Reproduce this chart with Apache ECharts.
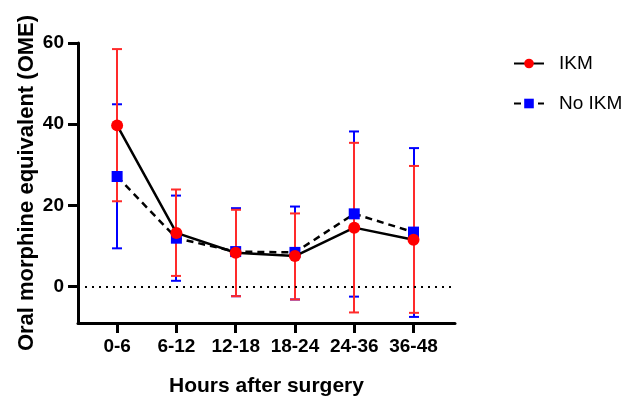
<!DOCTYPE html>
<html>
<head>
<meta charset="utf-8">
<script src="https://cdn.jsdelivr.net/npm/echarts@6/dist/echarts.min.js"></script>
<style>
  html, body { margin: 0; padding: 0; background: #fff; }
  #chart { width: 631px; height: 402px; }
</style>
</head>
<body>
<div id="chart"></div>
<script>
// categories on the x axis
var categories = ['0-6', '6-12', '12-18', '18-24', '24-36', '36-48'];
// IKM group: mean and error bar ends
var ikmMean = [39.7, 13.2, 8.3, 7.5, 14.5, 11.5];
var ikmLow  = [21.0, 2.6, -2.4, -3.2, -6.4, -6.5];
var ikmHigh = [58.5, 23.9, 18.9, 18.0, 35.4, 29.7];
// No IKM group
var noMean = [27.1, 11.9, 8.6, 8.4, 17.9, 13.4];
var noLow  = [9.4, 1.4, -2.4, -3.2, -2.5, -7.5];
var noHigh = [44.9, 22.4, 19.3, 19.7, 38.2, 34.1];
// y tick labels
var yTicks = [0, 20, 40, 60];

var font = 'Liberation Sans, Arial, sans-serif';

function pairs(vals) {
    return vals.map(function (v, i) { return [i, v]; });
}
function errData(low, high) {
    return low.map(function (v, i) { return [i, v, high[i]]; });
}
function errRender(color) {
    return function (params, api) {
        var x = api.value(0);
        var lo = api.coord([x, api.value(1)]);
        var hi = api.coord([x, api.value(2)]);
        var cx = Math.round(lo[0]);
        var w = 5;
        var style = { stroke: color, lineWidth: 2 };
        return {
            type: 'group',
            children: [
                { type: 'line', shape: { x1: cx, y1: lo[1], x2: cx, y2: hi[1] }, style: style },
                { type: 'line', shape: { x1: cx - w, y1: hi[1], x2: cx + w, y2: hi[1] }, style: style },
                { type: 'line', shape: { x1: cx - w, y1: lo[1], x2: cx + w, y2: lo[1] }, style: style }
            ]
        };
    };
}

var myChart = echarts.init(document.getElementById('chart'));
var option = {
    animation: false,
    backgroundColor: '#fff',
    grid: { left: 78, top: 43, right: 176, bottom: 75 },
    legend: {
        orient: 'vertical',
        left: 508,
        top: 49,
        itemWidth: 30,
        itemHeight: 12,
        itemGap: 21,
        data: ['IKM', 'No IKM'],
        textStyle: { fontFamily: font, fontSize: 19, color: '#000', padding: [0, 0, 0, 10] }
    },
    xAxis: {
        type: 'value',
        min: -0.66,
        max: 5.7,
        name: 'Hours after surgery',
        nameLocation: 'middle',
        nameGap: 53,
        nameMoveOverlap: false,
        nameTextStyle: { fontFamily: font, fontSize: 21, fontWeight: 'bold', color: '#000' },
        splitLine: { show: false },
        axisLine: { onZero: false, lineStyle: { color: '#000', width: 3 } },
        axisTick: { customValues: [0, 1, 2, 3, 4, 5], length: 10, lineStyle: { color: '#000', width: 3 } },
        axisLabel: {
            customValues: [0, 1, 2, 3, 4, 5],
            margin: 14,
            fontFamily: font, fontSize: 19, fontWeight: 'bold', color: '#000',
            formatter: function (v) { return categories[Math.round(v)]; }
        }
    },
    yAxis: {
        type: 'value',
        min: -9,
        max: 60,
        name: 'Oral morphine equivalent (OME)',
        nameLocation: 'middle',
        nameGap: 40,
        nameMoveOverlap: false,
        nameTextStyle: { fontFamily: font, fontSize: 22, fontWeight: 'bold', color: '#000' },
        splitLine: { show: false },
        axisLine: { show: true, onZero: false, lineStyle: { color: '#000', width: 3 } },
        axisTick: { show: true, customValues: yTicks, length: 10, lineStyle: { color: '#000', width: 3 } },
        axisLabel: {
            customValues: yTicks,
            margin: 14,
            fontFamily: font, fontSize: 19, fontWeight: 'bold', color: '#000'
        }
    },
    series: [
        {
            name: 'No IKM err',
            type: 'custom',
            renderItem: errRender('#0000ff'),
            data: errData(noLow, noHigh),
            z: 1
        },
        {
            name: 'IKM err',
            type: 'custom',
            renderItem: errRender('#ff2a2a'),
            data: errData(ikmLow, ikmHigh),
            z: 2
        },
        {
            name: 'No IKM',
            type: 'line',
            data: pairs(noMean),
            symbol: 'rect',
            symbolSize: 11,
            itemStyle: { color: '#0000ff' },
            lineStyle: { color: '#000', width: 2.5, type: [7, 5] },
            z: 3,
            markLine: {
                silent: true,
                symbol: 'none',
                label: { show: false },
                lineStyle: { color: '#000', width: 2, type: [2, 5] },
                data: [{ yAxis: 0 }]
            }
        },
        {
            name: 'IKM',
            type: 'line',
            data: pairs(ikmMean),
            symbol: 'circle',
            symbolSize: 12,
            itemStyle: { color: '#ff0000' },
            lineStyle: { color: '#000', width: 2.5 },
            z: 4
        }
    ]
};
myChart.setOption(option);
</script>
</body>
</html>
